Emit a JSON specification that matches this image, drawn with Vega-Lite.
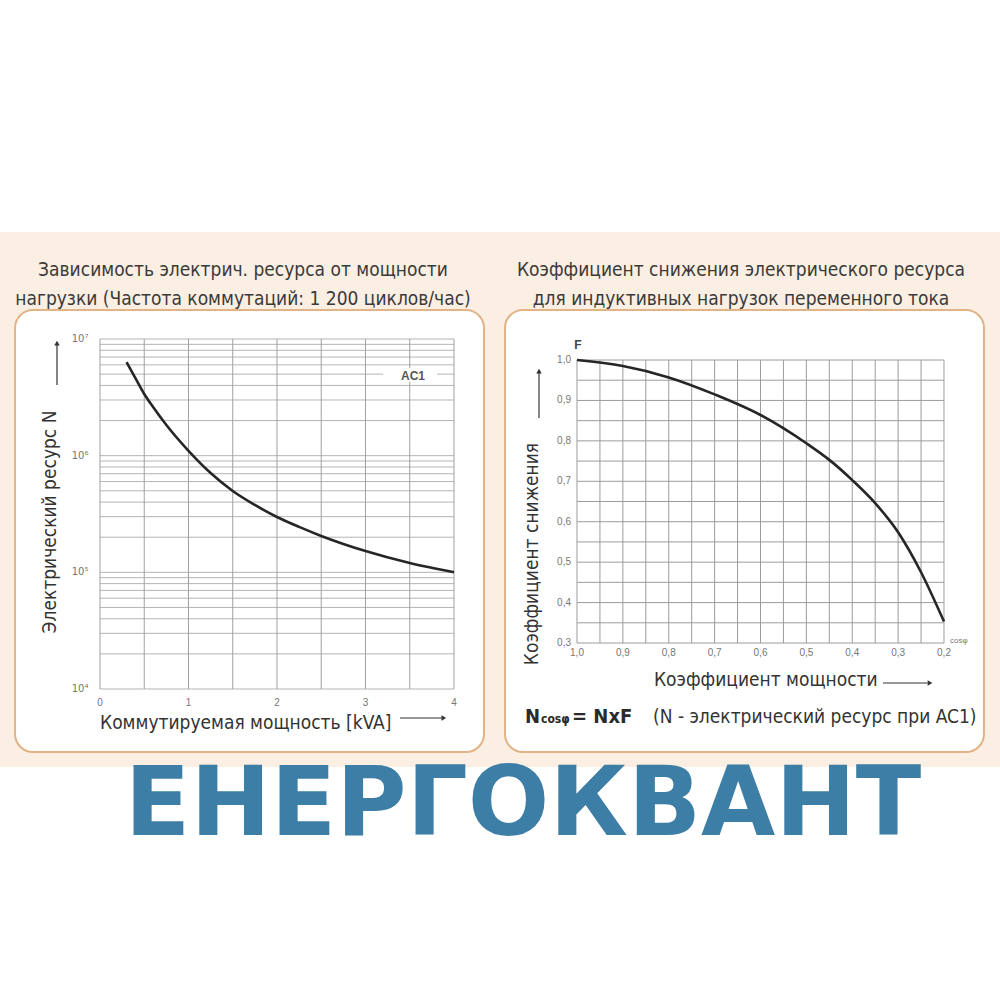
{
  "$schema": "https://vega.github.io/schema/vega-lite/v6.json",
  "width": 1000,
  "height": 1000,
  "autosize": {"type": "fit", "contains": "padding"},
  "padding": 0,
  "background": "#ffffff",
  "config": {
    "view": {"stroke": null},
    "axis": {"disable": true},
    "text": {"font": "Liberation Sans Narrow, DejaVu Sans Condensed, sans-serif", "color": "#333333"}
  },
  "data": {"values": [{}]},
  "datasets": {
    "resource": [
      {"kva": 0.3, "n": 6350000},
      {"kva": 0.4, "n": 4630000},
      {"kva": 0.5, "n": 3380000},
      {"kva": 0.6, "n": 2610000},
      {"kva": 0.75, "n": 1830000},
      {"kva": 1.0, "n": 1100000},
      {"kva": 1.25, "n": 710000},
      {"kva": 1.5, "n": 498000},
      {"kva": 1.75, "n": 378000},
      {"kva": 2.0, "n": 298000},
      {"kva": 2.25, "n": 245000},
      {"kva": 2.5, "n": 205000},
      {"kva": 2.75, "n": 175000},
      {"kva": 3.0, "n": 152000},
      {"kva": 3.5, "n": 120000},
      {"kva": 4.0, "n": 100000}
    ],
    "derating": [
      {"cos": 1.0, "f": 1.0},
      {"cos": 0.9, "f": 0.985},
      {"cos": 0.8, "f": 0.957},
      {"cos": 0.7, "f": 0.915},
      {"cos": 0.6, "f": 0.864},
      {"cos": 0.5, "f": 0.794},
      {"cos": 0.45, "f": 0.753},
      {"cos": 0.4, "f": 0.703},
      {"cos": 0.35, "f": 0.646},
      {"cos": 0.3, "f": 0.574},
      {"cos": 0.25, "f": 0.475},
      {"cos": 0.2, "f": 0.353}
    ],
    "leftVGrid": [
      {"kva": 0}, {"kva": 0.5}, {"kva": 1}, {"kva": 1.5}, {"kva": 2},
      {"kva": 2.5}, {"kva": 3}, {"kva": 3.5}, {"kva": 4}
    ],
    "leftHGrid": [
      {"n": 10000}, {"n": 20000}, {"n": 30000}, {"n": 40000}, {"n": 50000},
      {"n": 60000}, {"n": 70000}, {"n": 80000}, {"n": 90000},
      {"n": 100000}, {"n": 200000}, {"n": 300000}, {"n": 400000}, {"n": 500000},
      {"n": 600000}, {"n": 700000}, {"n": 800000}, {"n": 900000},
      {"n": 1000000}, {"n": 2000000}, {"n": 3000000}, {"n": 4000000}, {"n": 5000000},
      {"n": 6000000}, {"n": 7000000}, {"n": 8000000}, {"n": 9000000},
      {"n": 10000000}
    ],
    "leftYTicks": [
      {"n": 10000, "label": "10⁴"},
      {"n": 100000, "label": "10⁵"},
      {"n": 1000000, "label": "10⁶"},
      {"n": 10000000, "label": "10⁷"}
    ],
    "leftXTicks": [
      {"kva": 0}, {"kva": 1}, {"kva": 2}, {"kva": 3}, {"kva": 4}
    ],
    "rightVGrid": [
      {"cos": 0.2}, {"cos": 0.25}, {"cos": 0.3}, {"cos": 0.35}, {"cos": 0.4},
      {"cos": 0.45}, {"cos": 0.5}, {"cos": 0.55}, {"cos": 0.6}, {"cos": 0.65},
      {"cos": 0.7}, {"cos": 0.75}, {"cos": 0.8}, {"cos": 0.85}, {"cos": 0.9},
      {"cos": 0.95}, {"cos": 1.0}
    ],
    "rightHGrid": [
      {"f": 0.3}, {"f": 0.35}, {"f": 0.4}, {"f": 0.45}, {"f": 0.5},
      {"f": 0.55}, {"f": 0.6}, {"f": 0.65}, {"f": 0.7}, {"f": 0.75},
      {"f": 0.8}, {"f": 0.85}, {"f": 0.9}, {"f": 0.95}, {"f": 1.0}
    ],
    "rightYTicks": [
      {"f": 1.0, "label": "1,0"}, {"f": 0.9, "label": "0,9"}, {"f": 0.8, "label": "0,8"},
      {"f": 0.7, "label": "0,7"}, {"f": 0.6, "label": "0,6"}, {"f": 0.5, "label": "0,5"},
      {"f": 0.4, "label": "0,4"}, {"f": 0.3, "label": "0,3"}
    ],
    "rightXTicks": [
      {"cos": 1.0, "label": "1,0"}, {"cos": 0.9, "label": "0,9"}, {"cos": 0.8, "label": "0,8"},
      {"cos": 0.7, "label": "0,7"}, {"cos": 0.6, "label": "0,6"}, {"cos": 0.5, "label": "0,5"},
      {"cos": 0.4, "label": "0,4"}, {"cos": 0.3, "label": "0,3"}, {"cos": 0.2, "label": "0,2"}
    ]
  },
  "layer": [
    {
      "layer": [
        {
          "mark": {"type": "rect", "color": "#fbeee2"},
          "encoding": {
            "x": {"datum": -1.13, "type": "quantitative", "scale": {"type": "linear", "domain": [-1.13, 10.17], "nice": false, "zero": false}, "axis": null},
            "x2": {"datum": 10.17},
            "y": {"datum": 2145, "type": "quantitative", "scale": {"type": "log", "domain": [21.59, 8048000000], "nice": false}, "axis": null},
            "y2": {"datum": 82600000}
          }
        },
        {
          "mark": {"type": "rect", "fill": "#ffffff", "stroke": "#e2b386", "strokeWidth": 2, "cornerRadius": 18},
          "encoding": {
            "x": {"datum": -0.96, "type": "quantitative", "scale": {"type": "linear", "domain": [-1.13, 10.17], "nice": false, "zero": false}, "axis": null},
            "x2": {"datum": 4.339},
            "y": {"datum": 2884, "type": "quantitative", "scale": {"type": "log", "domain": [21.59, 8048000000], "nice": false}, "axis": null},
            "y2": {"datum": 17730000}
          }
        },
        {
          "data": {"name": "leftHGrid"},
          "mark": {"type": "rule", "color": "#b4b4b4", "strokeWidth": 1},
          "encoding": {
            "y": {"field": "n", "type": "quantitative", "scale": {"type": "log", "domain": [21.59, 8048000000], "nice": false}, "axis": null},
            "x": {"datum": 0, "type": "quantitative", "scale": {"type": "linear", "domain": [-1.13, 10.17], "nice": false, "zero": false}, "axis": null},
            "x2": {"datum": 4}
          }
        },
        {
          "data": {"name": "leftVGrid"},
          "mark": {"type": "rule", "color": "#a0a0a0", "strokeWidth": 1},
          "encoding": {
            "x": {"field": "kva", "type": "quantitative", "scale": {"type": "linear", "domain": [-1.13, 10.17], "nice": false, "zero": false}, "axis": null},
            "y": {"datum": 10000, "type": "quantitative", "scale": {"type": "log", "domain": [21.59, 8048000000], "nice": false}, "axis": null},
            "y2": {"datum": 10000000}
          }
        },
        {
          "mark": {"type": "rect", "color": "#ffffff"},
          "encoding": {
            "x": {"datum": 3.2, "type": "quantitative", "scale": {"type": "linear", "domain": [-1.13, 10.17], "nice": false, "zero": false}, "axis": null},
            "x2": {"datum": 3.81},
            "y": {"datum": 4300000, "type": "quantitative", "scale": {"type": "log", "domain": [21.59, 8048000000], "nice": false}, "axis": null},
            "y2": {"datum": 5600000}
          }
        },
        {
          "mark": {"type": "text", "text": "AC1", "font": "Liberation Sans, sans-serif", "fontWeight": "bold", "fontSize": 12, "color": "#555555", "align": "center", "baseline": "middle"},
          "encoding": {
            "x": {"datum": 3.537, "type": "quantitative", "scale": {"type": "linear", "domain": [-1.13, 10.17], "nice": false, "zero": false}, "axis": null},
            "y": {"datum": 4820000, "type": "quantitative", "scale": {"type": "log", "domain": [21.59, 8048000000], "nice": false}, "axis": null}
          }
        },
        {
          "data": {"name": "resource"},
          "mark": {"type": "line", "color": "#262626", "strokeWidth": 2.6, "interpolate": "monotone"},
          "encoding": {
            "x": {"field": "kva", "type": "quantitative", "scale": {"type": "linear", "domain": [-1.13, 10.17], "nice": false, "zero": false}, "axis": null},
            "y": {"field": "n", "type": "quantitative", "scale": {"type": "log", "domain": [21.59, 8048000000], "nice": false}, "axis": null}
          }
        },
        {
          "data": {"name": "leftYTicks"},
          "mark": {"type": "text", "font": "DejaVu Sans, sans-serif", "fontSize": 10, "color": "#777777", "align": "right", "baseline": "middle"},
          "encoding": {
            "text": {"field": "label"},
            "y": {"field": "n", "type": "quantitative", "scale": {"type": "log", "domain": [21.59, 8048000000], "nice": false}, "axis": null},
            "x": {"datum": -0.13, "type": "quantitative", "scale": {"type": "linear", "domain": [-1.13, 10.17], "nice": false, "zero": false}, "axis": null}
          }
        },
        {
          "data": {"name": "leftXTicks"},
          "mark": {"type": "text", "font": "Liberation Sans, sans-serif", "fontSize": 10, "color": "#777777", "align": "center", "baseline": "middle"},
          "encoding": {
            "text": {"field": "kva"},
            "x": {"field": "kva", "type": "quantitative", "scale": {"type": "linear", "domain": [-1.13, 10.17], "nice": false, "zero": false}, "axis": null},
            "y": {"datum": 7586, "type": "quantitative", "scale": {"type": "log", "domain": [21.59, 8048000000], "nice": false}, "axis": null}
          }
        },
        {
          "mark": {"type": "text", "text": "Электрический ресурс N", "fontSize": 19, "angle": 270, "align": "center", "baseline": "middle"},
          "encoding": {
            "x": {"datum": -0.565, "type": "quantitative", "scale": {"type": "linear", "domain": [-1.13, 10.17], "nice": false, "zero": false}, "axis": null},
            "y": {"datum": 270000, "type": "quantitative", "scale": {"type": "log", "domain": [21.59, 8048000000], "nice": false}, "axis": null}
          }
        },
        {
          "mark": {"type": "rule", "color": "#333333", "strokeWidth": 1.2},
          "encoding": {
            "x": {"datum": -0.486, "type": "quantitative", "scale": {"type": "linear", "domain": [-1.13, 10.17], "nice": false, "zero": false}, "axis": null},
            "y": {"datum": 4030000, "type": "quantitative", "scale": {"type": "log", "domain": [21.59, 8048000000], "nice": false}, "axis": null},
            "y2": {"datum": 8900000}
          }
        },
        {
          "mark": {"type": "point", "shape": "triangle-up", "filled": true, "color": "#333333", "size": 30, "opacity": 1},
          "encoding": {
            "x": {"datum": -0.486, "type": "quantitative", "scale": {"type": "linear", "domain": [-1.13, 10.17], "nice": false, "zero": false}, "axis": null},
            "y": {"datum": 9200000, "type": "quantitative", "scale": {"type": "log", "domain": [21.59, 8048000000], "nice": false}, "axis": null}
          }
        },
        {
          "mark": {"type": "text", "text": "Коммутируемая мощность [kVA]", "fontSize": 19, "align": "left", "baseline": "middle"},
          "encoding": {
            "x": {"datum": 0, "type": "quantitative", "scale": {"type": "linear", "domain": [-1.13, 10.17], "nice": false, "zero": false}, "axis": null},
            "y": {"datum": 5117, "type": "quantitative", "scale": {"type": "log", "domain": [21.59, 8048000000], "nice": false}, "axis": null}
          }
        },
        {
          "mark": {"type": "rule", "color": "#333333", "strokeWidth": 1.2},
          "encoding": {
            "x": {"datum": 3.39, "type": "quantitative", "scale": {"type": "linear", "domain": [-1.13, 10.17], "nice": false, "zero": false}, "axis": null},
            "x2": {"datum": 3.86},
            "y": {"datum": 5643, "type": "quantitative", "scale": {"type": "log", "domain": [21.59, 8048000000], "nice": false}, "axis": null}
          }
        },
        {
          "mark": {"type": "point", "shape": "triangle-right", "filled": true, "color": "#333333", "size": 30, "opacity": 1},
          "encoding": {
            "x": {"datum": 3.885, "type": "quantitative", "scale": {"type": "linear", "domain": [-1.13, 10.17], "nice": false, "zero": false}, "axis": null},
            "y": {"datum": 5643, "type": "quantitative", "scale": {"type": "log", "domain": [21.59, 8048000000], "nice": false}, "axis": null}
          }
        },
        {
          "mark": {"type": "text", "text": ["Зависимость электрич. ресурса от мощности", "нагрузки (Частота коммутаций: 1 200 циклов/час)"], "fontSize": 19, "lineHeight": 29, "align": "center", "baseline": "middle", "color": "#3a3a3a"},
          "encoding": {
            "x": {"datum": 1.616, "type": "quantitative", "scale": {"type": "linear", "domain": [-1.13, 10.17], "nice": false, "zero": false}, "axis": null},
            "y": {"datum": 39400000, "type": "quantitative", "scale": {"type": "log", "domain": [21.59, 8048000000], "nice": false}, "axis": null}
          }
        },
        {
          "mark": {"type": "text", "text": "ЕНЕРГОКВАНТ", "font": "DejaVu Sans, sans-serif", "fontWeight": "bold", "fontSize": 96, "color": "#3d7ea7", "align": "center", "baseline": "alphabetic"},
          "encoding": {
            "x": {"datum": 4.78, "type": "quantitative", "scale": {"type": "linear", "domain": [-1.13, 10.17], "nice": false, "zero": false}, "axis": null},
            "y": {"datum": 561, "type": "quantitative", "scale": {"type": "log", "domain": [21.59, 8048000000], "nice": false}, "axis": null}
          }
        }
      ]
    },
    {
      "layer": [
        {
          "mark": {"type": "rect", "fill": "#ffffff", "stroke": "#e2b386", "strokeWidth": 2, "cornerRadius": 18},
          "encoding": {
            "x": {"datum": 1.157, "type": "quantitative", "scale": {"type": "linear", "domain": [0.0779, 2.2578], "reverse": true, "nice": false, "zero": false}, "axis": null},
            "x2": {"datum": 0.1128},
            "y": {"datum": 0.0304, "type": "quantitative", "scale": {"type": "linear", "domain": [-0.583, 1.8905], "nice": false, "zero": false}, "axis": null},
            "y2": {"datum": 1.1237}
          }
        },
        {
          "data": {"name": "rightHGrid"},
          "mark": {"type": "rule", "color": "#9c9c9c", "strokeWidth": 1},
          "encoding": {
            "y": {"field": "f", "type": "quantitative", "scale": {"type": "linear", "domain": [-0.583, 1.8905], "nice": false, "zero": false}, "axis": null},
            "x": {"datum": 1.0, "type": "quantitative", "scale": {"type": "linear", "domain": [0.0779, 2.2578], "reverse": true, "nice": false, "zero": false}, "axis": null},
            "x2": {"datum": 0.2}
          }
        },
        {
          "data": {"name": "rightVGrid"},
          "mark": {"type": "rule", "color": "#9c9c9c", "strokeWidth": 1},
          "encoding": {
            "x": {"field": "cos", "type": "quantitative", "scale": {"type": "linear", "domain": [0.0779, 2.2578], "reverse": true, "nice": false, "zero": false}, "axis": null},
            "y": {"datum": 0.3, "type": "quantitative", "scale": {"type": "linear", "domain": [-0.583, 1.8905], "nice": false, "zero": false}, "axis": null},
            "y2": {"datum": 1.0}
          }
        },
        {
          "data": {"name": "derating"},
          "mark": {"type": "line", "color": "#262626", "strokeWidth": 2.6, "interpolate": "monotone"},
          "encoding": {
            "x": {"field": "cos", "type": "quantitative", "scale": {"type": "linear", "domain": [0.0779, 2.2578], "reverse": true, "nice": false, "zero": false}, "axis": null},
            "y": {"field": "f", "type": "quantitative", "scale": {"type": "linear", "domain": [-0.583, 1.8905], "nice": false, "zero": false}, "axis": null}
          }
        },
        {
          "data": {"name": "rightYTicks"},
          "mark": {"type": "text", "font": "Liberation Sans, sans-serif", "fontSize": 10, "color": "#777777", "align": "right", "baseline": "middle"},
          "encoding": {
            "text": {"field": "label"},
            "y": {"field": "f", "type": "quantitative", "scale": {"type": "linear", "domain": [-0.583, 1.8905], "nice": false, "zero": false}, "axis": null},
            "x": {"datum": 1.0131, "type": "quantitative", "scale": {"type": "linear", "domain": [0.0779, 2.2578], "reverse": true, "nice": false, "zero": false}, "axis": null}
          }
        },
        {
          "data": {"name": "rightXTicks"},
          "mark": {"type": "text", "font": "Liberation Sans, sans-serif", "fontSize": 10, "color": "#777777", "align": "center", "baseline": "middle"},
          "encoding": {
            "text": {"field": "label"},
            "x": {"field": "cos", "type": "quantitative", "scale": {"type": "linear", "domain": [0.0779, 2.2578], "reverse": true, "nice": false, "zero": false}, "axis": null},
            "y": {"datum": 0.2753, "type": "quantitative", "scale": {"type": "linear", "domain": [-0.583, 1.8905], "nice": false, "zero": false}, "axis": null}
          }
        },
        {
          "mark": {"type": "text", "text": "F", "font": "Liberation Sans, sans-serif", "fontWeight": "bold", "fontSize": 12, "color": "#444444", "align": "center", "baseline": "middle"},
          "encoding": {
            "x": {"datum": 0.9978, "type": "quantitative", "scale": {"type": "linear", "domain": [0.0779, 2.2578], "reverse": true, "nice": false, "zero": false}, "axis": null},
            "y": {"datum": 1.0371, "type": "quantitative", "scale": {"type": "linear", "domain": [-0.583, 1.8905], "nice": false, "zero": false}, "axis": null}
          }
        },
        {
          "mark": {"type": "text", "text": "cosφ", "font": "Liberation Sans, sans-serif", "fontSize": 8, "color": "#777777", "align": "left", "baseline": "middle"},
          "encoding": {
            "x": {"datum": 0.1869, "type": "quantitative", "scale": {"type": "linear", "domain": [0.0779, 2.2578], "reverse": true, "nice": false, "zero": false}, "axis": null},
            "y": {"datum": 0.305, "type": "quantitative", "scale": {"type": "linear", "domain": [-0.583, 1.8905], "nice": false, "zero": false}, "axis": null}
          }
        },
        {
          "mark": {"type": "text", "text": "Коэффициент снижения", "fontSize": 19, "angle": 270, "align": "center", "baseline": "middle"},
          "encoding": {
            "x": {"datum": 1.0981, "type": "quantitative", "scale": {"type": "linear", "domain": [0.0779, 2.2578], "reverse": true, "nice": false, "zero": false}, "axis": null},
            "y": {"datum": 0.5202, "type": "quantitative", "scale": {"type": "linear", "domain": [-0.583, 1.8905], "nice": false, "zero": false}, "axis": null}
          }
        },
        {
          "mark": {"type": "rule", "color": "#333333", "strokeWidth": 1.2},
          "encoding": {
            "x": {"datum": 1.0828, "type": "quantitative", "scale": {"type": "linear", "domain": [0.0779, 2.2578], "reverse": true, "nice": false, "zero": false}, "axis": null},
            "y": {"datum": 0.8565, "type": "quantitative", "scale": {"type": "linear", "domain": [-0.583, 1.8905], "nice": false, "zero": false}, "axis": null},
            "y2": {"datum": 0.968}
          }
        },
        {
          "mark": {"type": "point", "shape": "triangle-up", "filled": true, "color": "#333333", "size": 30, "opacity": 1},
          "encoding": {
            "x": {"datum": 1.0828, "type": "quantitative", "scale": {"type": "linear", "domain": [0.0779, 2.2578], "reverse": true, "nice": false, "zero": false}, "axis": null},
            "y": {"datum": 0.9728, "type": "quantitative", "scale": {"type": "linear", "domain": [-0.583, 1.8905], "nice": false, "zero": false}, "axis": null}
          }
        },
        {
          "mark": {"type": "text", "text": "Коэффициент мощности", "fontSize": 19, "align": "left", "baseline": "middle"},
          "encoding": {
            "x": {"datum": 0.8322, "type": "quantitative", "scale": {"type": "linear", "domain": [0.0779, 2.2578], "reverse": true, "nice": false, "zero": false}, "axis": null},
            "y": {"datum": 0.2085, "type": "quantitative", "scale": {"type": "linear", "domain": [-0.583, 1.8905], "nice": false, "zero": false}, "axis": null}
          }
        },
        {
          "mark": {"type": "rule", "color": "#333333", "strokeWidth": 1.2},
          "encoding": {
            "x": {"datum": 0.333, "type": "quantitative", "scale": {"type": "linear", "domain": [0.0779, 2.2578], "reverse": true, "nice": false, "zero": false}, "axis": null},
            "x2": {"datum": 0.236},
            "y": {"datum": 0.2011, "type": "quantitative", "scale": {"type": "linear", "domain": [-0.583, 1.8905], "nice": false, "zero": false}, "axis": null}
          }
        },
        {
          "mark": {"type": "point", "shape": "triangle-right", "filled": true, "color": "#333333", "size": 30, "opacity": 1},
          "encoding": {
            "x": {"datum": 0.2305, "type": "quantitative", "scale": {"type": "linear", "domain": [0.0779, 2.2578], "reverse": true, "nice": false, "zero": false}, "axis": null},
            "y": {"datum": 0.2011, "type": "quantitative", "scale": {"type": "linear", "domain": [-0.583, 1.8905], "nice": false, "zero": false}, "axis": null}
          }
        },
        {
          "mark": {"type": "text", "text": "N", "fontSize": 20, "fontWeight": "bold", "align": "left", "baseline": "alphabetic", "color": "#2a2a2a"},
          "encoding": {
            "x": {"datum": 1.1134, "type": "quantitative", "scale": {"type": "linear", "domain": [0.0779, 2.2578], "reverse": true, "nice": false, "zero": false}, "axis": null},
            "y": {"datum": 0.102, "type": "quantitative", "scale": {"type": "linear", "domain": [-0.583, 1.8905], "nice": false, "zero": false}, "axis": null}
          }
        },
        {
          "mark": {"type": "text", "text": "cosφ", "fontSize": 12, "fontWeight": "bold", "align": "left", "baseline": "alphabetic", "color": "#2a2a2a"},
          "encoding": {
            "x": {"datum": 1.0785, "type": "quantitative", "scale": {"type": "linear", "domain": [0.0779, 2.2578], "reverse": true, "nice": false, "zero": false}, "axis": null},
            "y": {"datum": 0.102, "type": "quantitative", "scale": {"type": "linear", "domain": [-0.583, 1.8905], "nice": false, "zero": false}, "axis": null}
          }
        },
        {
          "mark": {"type": "text", "text": "= NxF", "fontSize": 20, "fontWeight": "bold", "align": "left", "baseline": "alphabetic", "color": "#2a2a2a"},
          "encoding": {
            "x": {"datum": 1.0109, "type": "quantitative", "scale": {"type": "linear", "domain": [0.0779, 2.2578], "reverse": true, "nice": false, "zero": false}, "axis": null},
            "y": {"datum": 0.102, "type": "quantitative", "scale": {"type": "linear", "domain": [-0.583, 1.8905], "nice": false, "zero": false}, "axis": null}
          }
        },
        {
          "mark": {"type": "text", "text": "(N - электрический ресурс при AC1)", "fontSize": 19, "align": "left", "baseline": "alphabetic"},
          "encoding": {
            "x": {"datum": 0.8343, "type": "quantitative", "scale": {"type": "linear", "domain": [0.0779, 2.2578], "reverse": true, "nice": false, "zero": false}, "axis": null},
            "y": {"datum": 0.102, "type": "quantitative", "scale": {"type": "linear", "domain": [-0.583, 1.8905], "nice": false, "zero": false}, "axis": null}
          }
        },
        {
          "mark": {"type": "text", "text": ["Коэффициент снижения электрического ресурса", "для индуктивных нагрузок переменного тока"], "fontSize": 19, "lineHeight": 29, "align": "center", "baseline": "middle", "color": "#3a3a3a"},
          "encoding": {
            "x": {"datum": 0.6425, "type": "quantitative", "scale": {"type": "linear", "domain": [0.0779, 2.2578], "reverse": true, "nice": false, "zero": false}, "axis": null},
            "y": {"datum": 1.2238, "type": "quantitative", "scale": {"type": "linear", "domain": [-0.583, 1.8905], "nice": false, "zero": false}, "axis": null}
          }
        }
      ]
    }
  ],
  "resolve": {"scale": {"x": "independent", "y": "independent"}}
}
